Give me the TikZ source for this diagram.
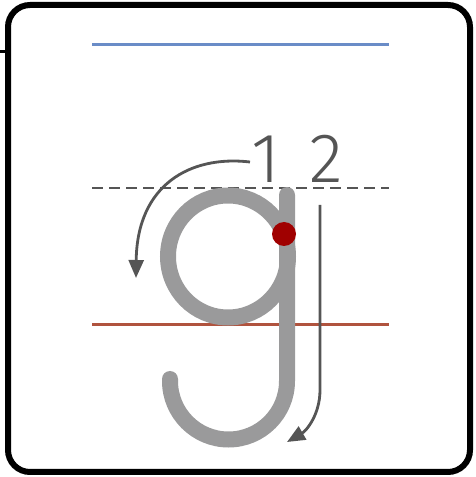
\documentclass[tikz,border=0pt]{standalone}
\usepackage{fontspec}
\setsansfont{Fira Sans Light}
\usetikzlibrary{arrows.meta}
\definecolor{letter}{HTML}{9A9A9B}
\definecolor{guide}{HTML}{555555}
\definecolor{topblue}{HTML}{6A8CC7}
\definecolor{redline}{HTML}{B0533E}
\definecolor{dot}{HTML}{A00000}
\begin{document}
\begin{tikzpicture}[x=1pt,y=1pt,
  rule/.style={line width=3pt},
  stroke/.style={draw=letter,line width=16pt,line cap=round},
  guidearrow/.style={draw=guide,line width=2.8pt,-{Triangle[length=18pt,width=15pt]}},
  numlabel/.style={text=guide,font=\sffamily\fontsize{70}{70}\selectfont,inner sep=0pt}]
\useasboundingbox (0,0) rectangle (475,477);
\node[draw=black,line width=6pt,rounded corners=22pt,minimum width=462pt,minimum height=467pt,inner sep=0pt] (frame) at (239,238.5) {};
\coordinate (tickL) at (0,425);
\draw[line width=3pt] (tickL) -- (tickL -| frame.west);
% guide lines
\coordinate (bl) at (92,432); \coordinate (br) at (389,432);
\draw[rule,draw=topblue] (bl) -- (br);
\coordinate (dl) at (92,289); \coordinate (dr) at (389,289);
\draw[line width=1.6pt,draw=guide,dash pattern=on 11pt off 6pt] (dl) -- (dr);
\coordinate (rl) at (92,152); \coordinate (rr) at (389,152);
\draw[rule,draw=redline] (rl) -- (rr);
% letter g
\draw[stroke] (228,220.5) ellipse[x radius=60pt,y radius=61pt];
\coordinate (stemtop) at (287,282);
\coordinate (stembot) at (287,96);
\draw[stroke] (stemtop) -- (stembot) arc[start angle=0,end angle=-180,radius=58.5pt] -- ++(0,2);
\node[circle,fill=dot,minimum size=24pt,inner sep=0pt] (start) at (284,243) {};
% numbers
\node[numlabel] (n1) at (266,318) {1};
\node[numlabel] (n2) at (326,318) {2};
% arrows
\coordinate (a1s) at (250,315);
\coordinate (a1e) at (136,199);
\draw[guidearrow] (a1s) .. controls (190,322) and (137,292) .. (a1e);
\coordinate (a2s) at (320,272);
\coordinate (a2m) at (320,87);
\coordinate (a2e) at (287,35);
\draw[guidearrow] (a2s) -- (a2m) .. controls (320,62) and (306,46) .. (a2e);
\end{tikzpicture}
\end{document}
